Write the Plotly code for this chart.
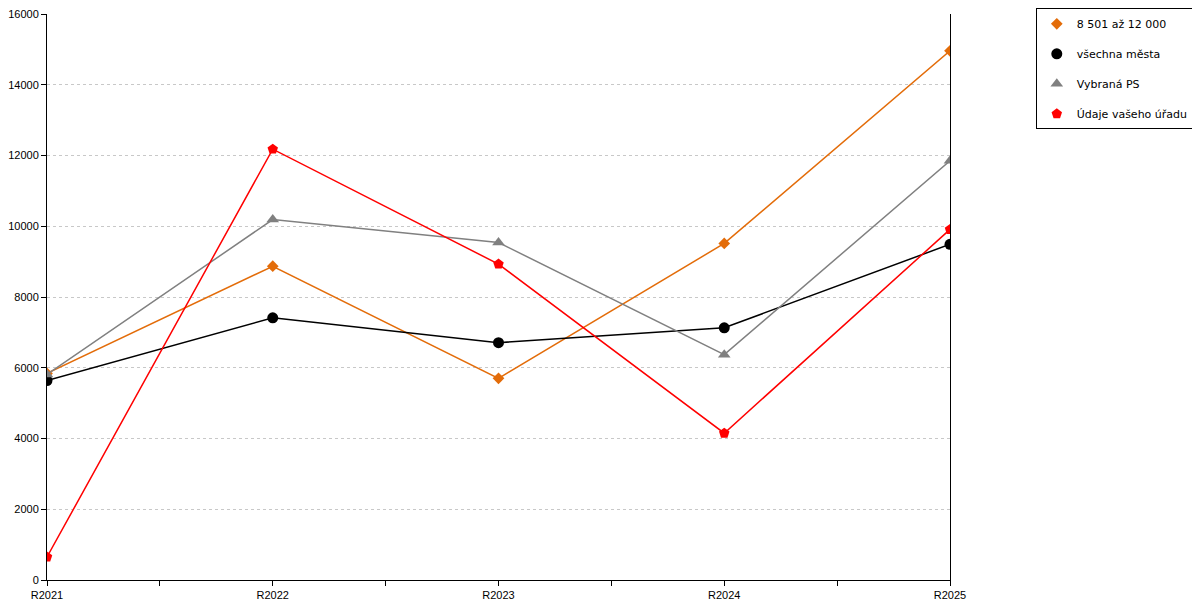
import plotly.graph_objects as go

YEARS = ['R2021', 'R2022', 'R2023', 'R2024', 'R2025']

SIZE_8501_12000 = [5840, 8870, 5700, 9515, 14960]
ALL_CITIES = [5640, 7410, 6710, 7130, 9490]
SELECTED_PS = [5810, 10190, 9540, 6370, 11850]
YOUR_OFFICE = [650, 12180, 8930, 4150, 9910]

FONT = 'DejaVu Sans'
TICK_FONT = dict(family='Liberation Sans', size=11, color='#000000')

series = [
    ('8 501 až 12 000', SIZE_8501_12000, '#E36C09', 'diamond', 9),
    ('všechna města', ALL_CITIES, '#000000', 'circle', 11),
    ('Vybraná PS', SELECTED_PS, '#808080', 'triangle-up', 11),
    ('Údaje vašeho úřadu', YOUR_OFFICE, '#FF0000', 'pentagon', 11),
]

x_pos = list(range(len(YEARS)))

fig = go.Figure()
for i, (name, vals, color, symbol, size) in enumerate(series):
    fig.add_trace(go.Scatter(
        x=x_pos, y=vals, name=name, mode='lines+markers',
        line=dict(color=color, width=1.5),
        marker=dict(symbol=symbol, size=size, color=color),
        showlegend=False
    ))
    # legend entry shows only the marker
    fig.add_trace(go.Scatter(
        x=[None], y=[None], name=name, mode='markers',
        marker=dict(symbol=symbol, size=size, color=color),
        legendgroup=str(i)
    ))

tick_vals = [v / 2 for v in range(2 * len(YEARS) - 1)]
tick_text = [YEARS[int(v)] if v == int(v) else '' for v in tick_vals]

# page body has an 8px margin, so the figure is a bit smaller than the window
fig.update_layout(
    width=1192, height=592,
    margin=dict(l=39, r=250, t=6, b=20, autoexpand=False),
    paper_bgcolor='white', plot_bgcolor='white',
    font=dict(family=FONT, size=11, color='#000000'),
    showlegend=True,
    legend=dict(
        x=1.095, y=1.01, xanchor='left', yanchor='top',
        bordercolor='#000000', borderwidth=1,
        font=dict(family=FONT, size=11),
        traceorder='grouped', tracegroupgap=11,
        itemwidth=30
    ),
    xaxis=dict(
        range=[0, len(YEARS) - 1], tickmode='array',
        tickvals=tick_vals, ticktext=tick_text, tickfont=TICK_FONT,
        ticks='outside', ticklen=5, tickcolor='#000000',
        showline=True, linecolor='#000000', linewidth=1,
        showgrid=False, zeroline=False, automargin=False,
        ticklabeloverflow='allow'
    ),
    yaxis=dict(
        range=[0, 16000], dtick=2000, tickformat='d', tickfont=TICK_FONT,
        ticks='outside', ticklen=5, tickcolor='#000000',
        showline=True, linecolor='#000000', linewidth=1, mirror=True,
        showgrid=True, gridcolor='#C8C8C8', griddash='dot',
        zeroline=False, automargin=False, ticklabeloverflow='allow'
    )
)

fig.write_html("out.html")
